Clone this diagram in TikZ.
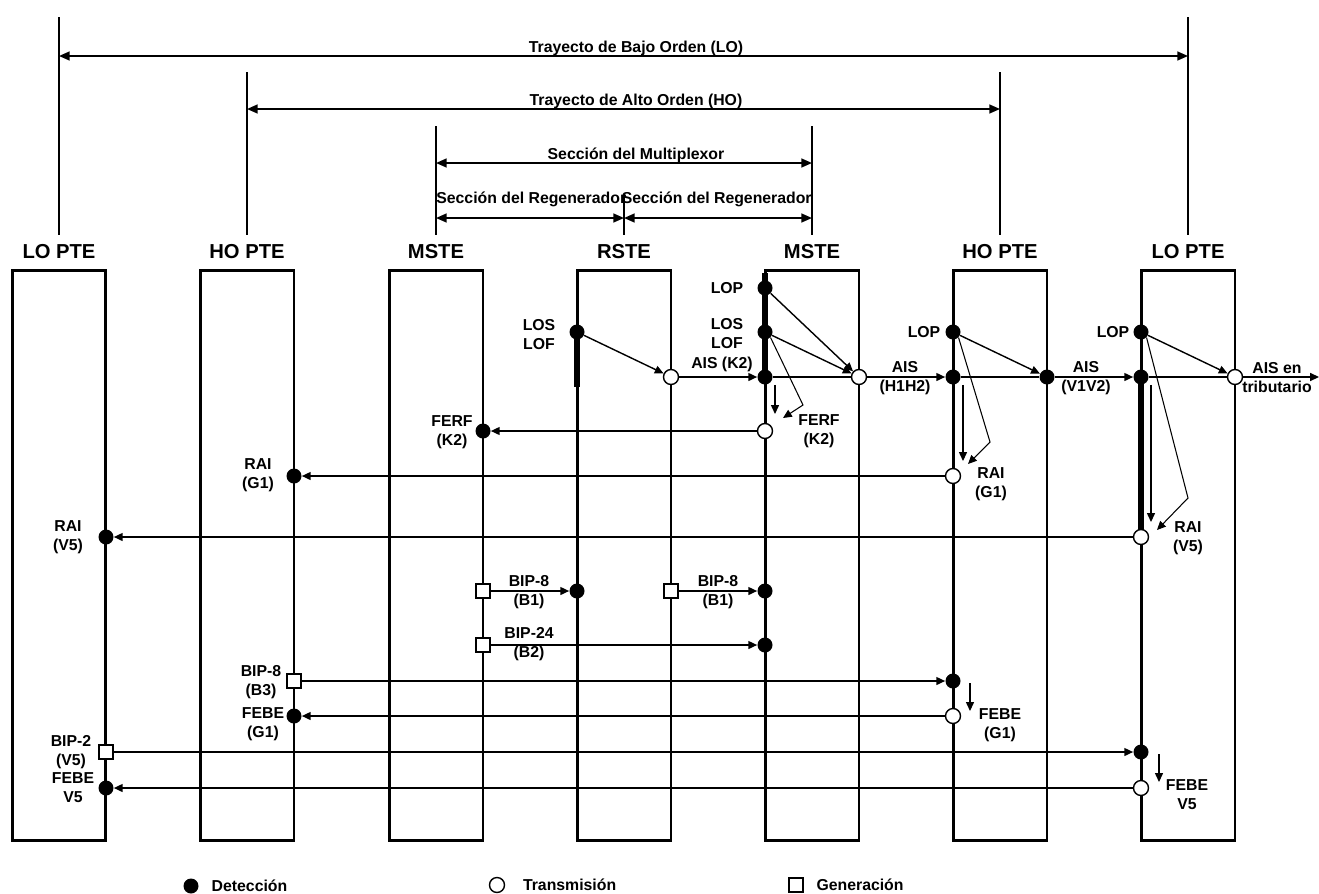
\documentclass[tikz,border=0pt]{standalone}
\usepackage{fontspec}
\setmainfont{Liberation Sans}
\usetikzlibrary{arrows.meta,positioning}

\begin{document}
\begin{tikzpicture}[
  x=0.02cm, y=-0.02cm,
  font=\bfseries\fontsize{9}{10.8}\selectfont,
  box/.style={draw, line width=1.7pt, minimum width=1.88cm, minimum height=11.42cm, inner sep=0pt},
  head/.style={font=\bfseries\fontsize{11.5}{13}\selectfont, inner sep=0pt},
  lbl/.style={align=center, inner sep=0pt},
  det/.style={circle, fill=black, minimum size=0.3cm, inner sep=0pt},
  trx/.style={circle, draw, line width=0.8pt, fill=white, minimum size=0.3cm, inner sep=0pt},
  gen/.style={draw, line width=0.8pt, fill=white, minimum size=0.28cm, inner sep=0pt},
  guide/.style={line width=1.2pt},
  dim/.style={{Triangle[length=6pt,width=5pt]}-{Triangle[length=6pt,width=5pt]}, line width=1pt},
  sig/.style={-{Triangle[length=5pt,width=4.5pt]}, line width=0.8pt},
  wire/.style={line width=0.8pt},
  loopline/.style={-{Triangle[length=5pt,width=4.5pt]}, line width=0.6pt},
  thickedge/.style={line width=3.5pt}
]
\useasboundingbox (0,0) rectangle (1319,893);

% equipment
\node[box] (lo1) at (59,555.5) {};
\node[box] (ho1) at (247,555.5) {};
\node[box] (ms1) at (436,555.5) {};
\node[box] (rs) at (624,555.5) {};
\node[box] (ms2) at (812,555.5) {};
\node[box] (ho2) at (1000,555.5) {};
\node[box] (lo2) at (1188,555.5) {};

\node[head, above=0.2cm of lo1] (lo1h) {LO PTE};
\node[head, above=0.2cm of ho1] (ho1h) {HO PTE};
\node[head, above=0.2cm of ms1] (ms1h) {MSTE};
\node[head, above=0.2cm of rs] (rsh) {RSTE};
\node[head, above=0.2cm of ms2] (ms2h) {MSTE};
\node[head, above=0.2cm of ho2] (ho2h) {HO PTE};
\node[head, above=0.2cm of lo2] (lo2h) {LO PTE};

% spans
\draw[guide] (59,17) -- (59,235);
\draw[guide] (1188,17) -- (1188,235);
\draw[guide] (247,72) -- (247,235);
\draw[guide] (1000,72) -- (1000,235);
\draw[guide] (436,126) -- (436,235);
\draw[guide] (812,126) -- (812,235);
\draw[guide] (624,197) -- (624,235);

\draw[dim] (59,56) -- (1188,56);
\draw[dim] (247,109) -- (1000,109);
\draw[dim] (436,163) -- (812,163);
\draw[dim] (436,218) -- (624,218);
\draw[dim] (624,218) -- (812,218);
\node[lbl, anchor=base] (loPath) at (636,52) {Trayecto de Bajo Orden (LO)};
\node[lbl, anchor=base] (hoPath) at (636,105) {Trayecto de Alto Orden (HO)};
\node[lbl, anchor=base] (muxSec) at (636,159) {Sección del Multiplexor};
\node[lbl, anchor=base west] (regSecA) at (436,203) {Sección del Regenerador};
\node[lbl, anchor=base east] (regSecB) at (812,203) {Sección del Regenerador};

% heavy edges
\coordinate (rsT) at (577,387);
\coordinate (m2T) at (765,273);
\draw[thickedge] (577,332) -- (rsT);
\draw[thickedge] (m2T) -- (765,377);
\draw[thickedge] (1141,377) -- (1141,537);

% points
\node[det] (rsLos) at (577,332) {};
\node[trx] (rsAis) at (671,377) {};
\node[det] (rsBip) at (577,591) {};
\node[gen] (rsGen) at (671,591) {};

\node[det] (msFerf) at (483,431) {};
\node[gen] (msGen1) at (483,591) {};
\node[gen] (msGen2) at (483,645) {};

\node[det] (m2Lop) at (765,288) {};
\node[det] (m2Los) at (765,332) {};
\node[det] (m2Ais) at (765,377) {};
\node[trx] (m2Aist) at (859,377) {};
\node[trx] (m2Ferf) at (765,431) {};
\node[det] (m2Bip1) at (765,591) {};
\node[det] (m2Bip2) at (765,645) {};

\node[det] (hoRai) at (294,476) {};
\node[gen] (hoGen) at (294,681) {};
\node[det] (hoFebe) at (294,716) {};

\node[det] (h2Lop) at (953,332) {};
\node[det] (h2Ais) at (953,377) {};
\node[det] (h2Aist) at (1047,377) {};
\node[trx] (h2Rai) at (953,476) {};
\node[det] (h2Bip) at (953,681) {};
\node[trx] (h2Febe) at (953,716) {};

\node[det] (loRai) at (106,537) {};
\node[gen] (loGen) at (106,752) {};
\node[det] (loFebe) at (106,788) {};

\node[det] (l2Lop) at (1141,332) {};
\node[det] (l2Ais) at (1141,377) {};
\node[trx] (l2Aist) at (1235,377) {};
\node[trx] (l2Rai) at (1141,537) {};
\node[det] (l2Bip) at (1141,752) {};
\node[trx] (l2Febe) at (1141,788) {};

\coordinate (m2Fv) at (775,414);
\coordinate (m2Fk) at (803,405);
\coordinate (m2Fl) at (783,418);
\coordinate (h2Fv) at (963,461);
\coordinate (h2Fk) at (990,442);
\coordinate (h2Fl) at (968,464);
\coordinate (l2Fv) at (1151,522);
\coordinate (l2Fk) at (1188,498);
\coordinate (l2Fl) at (1157,530);
\coordinate (h2Fa) at (970,683);
\coordinate (h2Fb) at (970,711);
\coordinate (l2Fa) at (1159,754);
\coordinate (l2Fb) at (1159,782);
\coordinate (l2Out) at (1319,377);

% forward: AIS chain
\draw[sig] (rsLos) -- (rsAis);
\draw[sig] (rsAis) -- (m2Ais);
\draw[sig] (m2Lop) -- (m2Aist);
\draw[sig] (m2Los) -- (m2Aist);
\draw[wire] (m2Ais) -- (m2Aist);
\draw[sig] (m2Aist) -- (h2Ais);
\draw[sig] (h2Lop) -- (h2Aist);
\draw[wire] (h2Ais) -- (h2Aist);
\draw[sig] (h2Aist) -- (l2Ais);
\draw[sig] (l2Lop) -- (l2Aist);
\draw[wire] (l2Ais) -- (l2Aist);
\draw[sig] (l2Aist) -- (l2Out);

% local loops
\draw[loopline] (m2Fv |- m2Ais.south) -- (m2Fv);
\draw[loopline] (m2Los.south east) -- (m2Fk) -- (m2Fl);
\draw[loopline] (h2Fv |- h2Ais.south) -- (h2Fv);
\draw[loopline] (h2Lop.south east) -- (h2Fk) -- (h2Fl);
\draw[loopline] (l2Fv |- l2Ais.south) -- (l2Fv);
\draw[loopline] (l2Lop.south east) -- (l2Fk) -- (l2Fl);
\draw[loopline] (h2Fa) -- (h2Fb);
\draw[loopline] (l2Fa) -- (l2Fb);

% backward indications
\draw[sig] (m2Ferf) -- (msFerf);
\draw[sig] (h2Rai) -- (hoRai);
\draw[sig] (l2Rai) -- (loRai);
\draw[sig] (h2Febe) -- (hoFebe);
\draw[sig] (l2Febe) -- (loFebe);

% parity
\draw[sig] (msGen1) -- (rsBip);
\draw[sig] (rsGen) -- (m2Bip1);
\draw[sig] (msGen2) -- (m2Bip2);
\draw[sig] (hoGen) -- (h2Bip);
\draw[sig] (loGen) -- (l2Bip);

% labels
\node[lbl] (rsLosL) at (539,335) {LOS\\LOF};
\node[lbl] (m2LopL) at (727,288) {LOP};
\node[lbl] (m2LosL) at (727,334) {LOS\\LOF};
\node[lbl] (m2AisL) at (722,364) {AIS (K2)};
\node[lbl] (msFerfL) at (452,432) {FERF\\(K2)};
\node[lbl] (m2FerfL) at (819,431) {FERF\\(K2)};
\node[lbl] (h2AisL) at (905,378) {AIS\\(H1H2)};
\node[lbl] (h2LopL) at (924,332) {LOP};
\node[lbl] (l2AisL) at (1086,378) {AIS\\(V1V2)};
\node[lbl] (l2LopL) at (1113,332) {LOP};
\node[lbl] (l2AistL) at (1277,378) {AIS en\\tributario};
\node[lbl] (h2RaiL) at (991,484) {RAI\\(G1)};
\node[lbl] (hoRaiL) at (258,475) {RAI\\(G1)};
\node[lbl] (l2RaiL) at (1188,538) {RAI\\(V5)};
\node[lbl] (loRaiL) at (68,537) {RAI\\(V5)};
\node[lbl] (msBipL) at (529,592) {BIP-8\\(B1)};
\node[lbl] (rsBipL) at (718,592) {BIP-8\\(B1)};
\node[lbl] (msBip2L) at (529,644) {BIP-24\\(B2)};
\node[lbl] (hoGenL) at (261,682) {BIP-8\\(B3)};
\node[lbl] (hoFebeL) at (263,724) {FEBE\\(G1)};
\node[lbl] (h2FebeL) at (1000,725) {FEBE\\(G1)};
\node[lbl] (loGenL) at (71,752) {BIP-2\\(V5)};
\node[lbl] (loFebeL) at (73,788) {FEBE\\V5};
\node[lbl] (l2FebeL) at (1187,795) {FEBE\\V5};

% legend
\node[det] (legDet) at (191,886) {};
\node[lbl, right=0.25cm of legDet] (legDetT) {Detección};
\node[trx] (legTrx) at (497,885) {};
\node[lbl, right=0.35cm of legTrx] (legTrxT) {Transmisión};
\node[gen] (legGen) at (796,885) {};
\node[lbl, right=0.25cm of legGen] (legGenT) {Generación};

\end{tikzpicture}
\end{document}
